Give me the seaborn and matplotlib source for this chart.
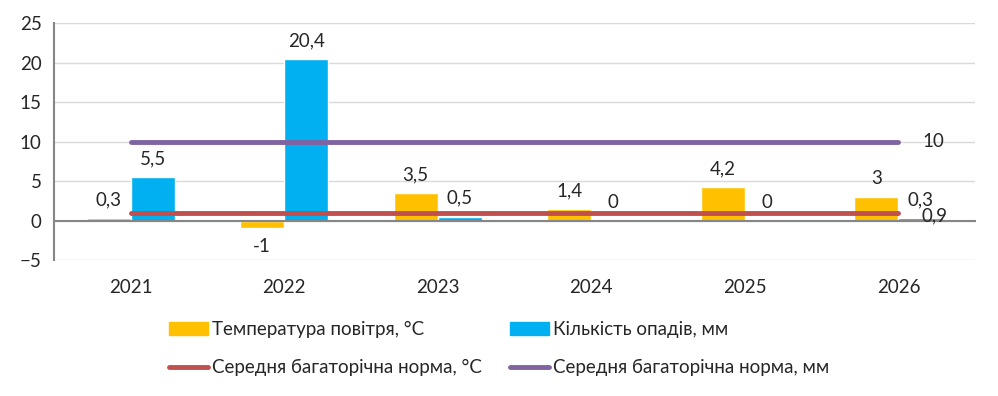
import numpy as np
import pandas as pd
import matplotlib.pyplot as plt
from matplotlib.patches import Patch
from matplotlib.lines import Line2D
import seaborn as sns

# data
years = ['2021', '2022', '2023', '2024', '2025', '2026']
temperature = [0.3, -1, 3.5, 1.4, 4.2, 3]
precipitation = [5.5, 20.4, 0.5, 0, 0, 0.3]
norm_temp = [0.9, 0.9, 0.9, 0.9, 0.9, 0.9]
norm_prec = [10, 10, 10, 10, 10, 10]

lbl_temp = 'Температура повітря, °C'
lbl_prec = 'Кількість опадів, мм'
lbl_norm_temp = 'Середня багаторічна норма, °C'
lbl_norm_prec = 'Середня багаторічна норма, мм'

orange = '#FFC000'
blue = '#00B0F0'
red = '#C0504D'
purple = '#8064A2'
gray = '#868686'

sns.set_style('white')
plt.rcParams['font.family'] = ['Lato', 'DejaVu Sans']
fs = 13.5


def fmt(v):
    return f'{v:g}'.replace('.', ',')


df = pd.DataFrame({
    'year': years * 2,
    'value': temperature + precipitation,
    'series': [lbl_temp] * 6 + [lbl_prec] * 6,
})

fig = plt.figure(figsize=(9.98, 3.96), dpi=100)
ax = fig.add_axes([0.0541, 0.3434, 0.923, 0.5985])

sns.barplot(data=df, x='year', y='value', hue='series', palette=[orange, blue],
            width=0.575, saturation=1, legend=False, ax=ax)

for cont, vals in zip(ax.containers, [temperature, precipitation]):
    ax.bar_label(cont, labels=[fmt(v) for v in vals], padding=7, fontsize=fs)

sns.lineplot(x=np.arange(6), y=norm_temp, color=red, lw=3.5, ax=ax,
             solid_capstyle='round')
sns.lineplot(x=np.arange(6), y=norm_prec, color=purple, lw=3.5, ax=ax,
             solid_capstyle='round')
ax.annotate(fmt(norm_temp[-1]), xy=(5, norm_temp[-1]), xytext=(17, -2),
            textcoords='offset points', va='center', fontsize=fs)
ax.annotate(fmt(norm_prec[-1]), xy=(5, norm_prec[-1]), xytext=(17, 0),
            textcoords='offset points', va='center', fontsize=fs)

ax.set_xlim(-0.5, 5.5)
ax.set_ylim(-5, 25)
ax.set_yticks(range(-5, 26, 5))
ax.set_xticks(np.arange(-0.5, 6, 1))
ax.set_xticklabels([])
ax.set_xticks(range(6), minor=True)
ax.set_xticklabels(years, minor=True)
ax.set_xlabel('')
ax.set_ylabel('')

ax.tick_params(axis='x', which='major', length=5, width=1.5, color=gray, direction='out')
ax.tick_params(axis='x', which='minor', length=0, pad=42, labelsize=fs)
ax.tick_params(axis='y', length=5, width=1.5, color=gray, direction='out', labelsize=fs, pad=4)

ax.yaxis.grid(True, color='#D9D9D9', lw=1)
ax.set_axisbelow(True)
ax.spines['bottom'].set_position(('data', 0))
for s in ['bottom', 'left']:
    ax.spines[s].set_color(gray)
    ax.spines[s].set_linewidth(1.5)
ax.spines['top'].set_visible(False)
ax.spines['right'].set_visible(False)

handles = [
    Patch(color=orange),
    Line2D([], [], color=red, lw=3.5, solid_capstyle='round'),
    Patch(color=blue),
    Line2D([], [], color=purple, lw=3.5, solid_capstyle='round'),
]
labels = [lbl_temp, lbl_norm_temp, lbl_prec, lbl_norm_prec]
fig.legend(handles, labels, ncol=2, loc='center', bbox_to_anchor=(0.5, 0.12),
           frameon=False, fontsize=fs, handlelength=2.1, handletextpad=0.2,
           labelspacing=1.15, columnspacing=1.5)

fig.savefig('out.png', dpi=100)
